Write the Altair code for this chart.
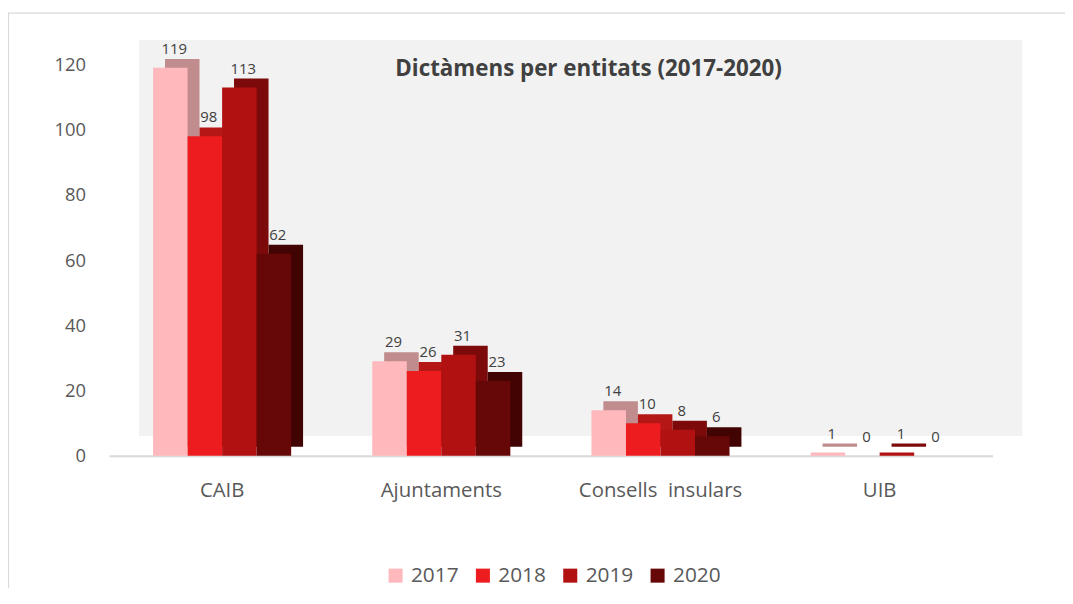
import altair as alt
import pandas as pd

categories = ["CAIB", "Ajuntaments", "Consells\u00a0 insulars", "UIB"]
years = ["2017", "2018", "2019", "2020"]
v2017 = [119, 29, 14, 1]
v2018 = [98, 26, 10, 0]
v2019 = [113, 31, 8, 1]
v2020 = [62, 23, 6, 0]
front_colors = ["#FFB9BC", "#EC1C1F", "#B11111", "#660808"]
side_colors = ["#C08C8E", "#B51616", "#7C0A0A", "#420303"]
y_ticks = [0, 20, 40, 60, 80, 100, 120]
title_text = "Dictàmens per entitats (2017-2020)"

rows = []
for i, c in enumerate(categories):
    for yr, vals in zip(years, [v2017, v2018, v2019, v2020]):
        rows.append({"entitat": c, "any": yr, "valor": vals[i]})
df = pd.DataFrame(rows)

FONT = "Open Sans"
W = 890
P_IN, P_OUT = 0.37, 0.2
step = W / (len(categories) - P_IN + 2 * P_OUT)
bw = step * (1 - P_IN)
DEPTH_X, DEPTH_Y = 12, 9

x_enc = alt.X(
    "entitat:N",
    sort=categories,
    scale=alt.Scale(paddingInner=P_IN, paddingOuter=P_OUT),
    axis=alt.Axis(
        title=None, labelAngle=0, labelFontSize=20.5, labelColor="#595959",
        labelFont=FONT, ticks=False, labelPadding=25,
        domainColor="#D9D9D9", domainWidth=2,
    ),
)
xo_front = alt.XOffset("any:N", sort=years, scale=alt.Scale(paddingInner=0, paddingOuter=0))
xo_back = alt.XOffset(
    "any:N", sort=years,
    scale=alt.Scale(paddingInner=0, paddingOuter=0, range=[DEPTH_X, DEPTH_X + bw]),
)
xo_label = alt.XOffset(
    "any:N", sort=years,
    scale=alt.Scale(type="point", padding=0.5, range=[4, 4 + bw]),
)
y_scale = alt.Scale(domain=[0, 130], nice=False)
y_axis = alt.Axis(
    title=None, values=y_ticks, grid=False, domain=False, ticks=False,
    labelFontSize=18.5, labelColor="#595959", labelFont=FONT, labelPadding=24,
)

one = pd.DataFrame({"k": [0]})

wall = alt.Chart(one).mark_rect(color="#F2F2F2").encode(
    x=alt.value(30), x2=alt.value(920), y=alt.value(8), y2=alt.value(407)
)
frame = alt.Chart(one).mark_rect(fill=None, stroke="#D9D9D9", strokeWidth=1.2).encode(
    x=alt.value(-101.5), x2=alt.value(1000), y=alt.value(-19), y2=alt.value(700)
)

back = alt.Chart(df).mark_bar(yOffset=-DEPTH_Y).encode(
    x=x_enc, xOffset=xo_back,
    y=alt.Y("valor:Q", scale=y_scale, axis=y_axis),
    color=alt.Color("any:N", sort=years, scale=alt.Scale(domain=years, range=side_colors), legend=None),
)

front = alt.Chart(df).mark_bar().encode(
    x=x_enc, xOffset=xo_front,
    y=alt.Y("valor:Q", scale=y_scale, axis=y_axis),
    color=alt.Color(
        "any:N", sort=years, scale=alt.Scale(domain=years, range=front_colors),
        legend=alt.Legend(
            title=None, orient="none", legendX=278, legendY=537, direction="horizontal",
            symbolType="square", symbolSize=200, symbolStrokeWidth=0, labelFontSize=21,
            labelColor="#595959", labelFont=FONT, columnPadding=13, labelOffset=5,
        ),
    ),
)

labels = alt.Chart(df).mark_text(
    baseline="bottom", dy=-11, fontSize=15, color="#404040", font=FONT
).encode(
    x=x_enc, xOffset=xo_label,
    y=alt.Y("valor:Q", scale=y_scale, axis=y_axis),
    text=alt.Text("valor:Q"),
)

title = alt.Chart(pd.DataFrame({"t": [title_text]})).mark_text(
    fontSize=22.5, fontWeight="bold", color="#404040", font=FONT, align="center", baseline="middle"
).encode(x=alt.value(483), y=alt.value(37), text="t:N")

chart = alt.layer(wall, frame, back, front, labels, title).resolve_scale(
    color="independent", xOffset="independent"
).properties(
    width=W, height=427,
    padding={"left": 102, "top": 22, "right": 73, "bottom": 131},
    autosize="none",
).configure_view(stroke=None)

chart.save("out.html", embed_options={"renderer": "svg", "actions": False})
